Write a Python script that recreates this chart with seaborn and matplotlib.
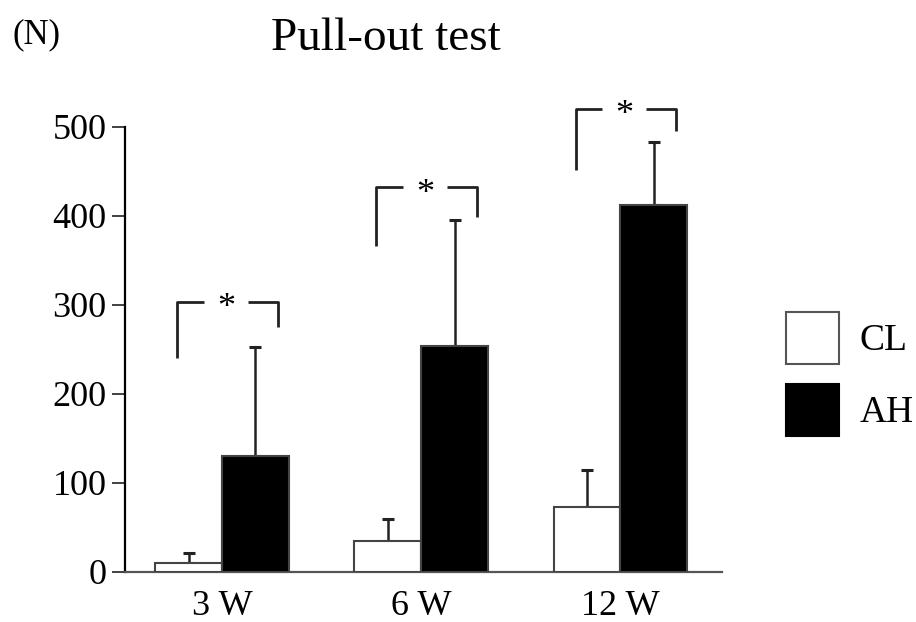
import matplotlib
matplotlib.use("Agg")
import matplotlib.pyplot as plt
import seaborn as sns
import pandas as pd
import numpy as np
from matplotlib.patches import Patch

# ---- data ----
weeks = ["3 W", "6 W", "12 W"]
groups = ["CL", "AH"]
cl_mean = [10, 34, 73]
ah_mean = [130, 254, 412]
cl_sd = [11, 25, 41]
ah_sd = [122, 141, 71]
# significance brackets: top height, left-leg bottom, right-leg bottom
br_top = [303, 432, 520]
br_left = [240, 366, 451]
br_right = [275, 398, 495]
yticks = [0, 100, 200, 300, 400, 500]

df = pd.DataFrame({
    "week": weeks * 2,
    "group": ["CL"] * 3 + ["AH"] * 3,
    "value": cl_mean + ah_mean,
})
sds = {"CL": cl_sd, "AH": ah_sd}

sns.set_style("ticks")
plt.rcParams["font.family"] = ["Liberation Serif", "DejaVu Serif"]
plt.rcParams["text.color"] = "black"
plt.rcParams["xtick.color"] = "black"
plt.rcParams["ytick.color"] = "black"
plt.rcParams["xtick.labelcolor"] = "black"
plt.rcParams["ytick.labelcolor"] = "black"

fig = plt.figure(figsize=(9.16, 6.22), dpi=100)
ax = fig.add_axes([125 / 916, 1 - 571.7 / 622, (722 - 125) / 916, (571.7 - 126.7) / 622])

palette = {"CL": "white", "AH": "black"}
sns.barplot(data=df, x="week", y="value", hue="group", order=weeks, hue_order=groups,
            palette=palette, errorbar=None, width=0.67, ax=ax, legend=False,
            edgecolor="#444444", linewidth=1.5, saturation=1)

# error bars (one-sided, upward) from bar geometry
for cont, g in zip(ax.containers, groups):
    for bar, sd in zip(cont, sds[g]):
        x = bar.get_x() + bar.get_width() / 2
        h = bar.get_height()
        ax.errorbar([x], [h], yerr=[[0], [sd]], fmt="none", ecolor="#222222",
                    elinewidth=1.8, capsize=4, capthick=2.2, clip_on=False, zorder=1)
for p in ax.patches:
    p.set_zorder(3)

# significance brackets
lo, hi, sx, gap = -0.225, 0.28, 0.02, 0.11
for i in range(len(weeks)):
    L, R, S = i + lo, i + hi, i + sx
    kw = dict(color="#222222", lw=2, clip_on=False, solid_capstyle="butt")
    ax.plot([L, L, S - gap], [br_left[i], br_top[i], br_top[i]], **kw)
    ax.plot([S + gap, R, R], [br_top[i], br_top[i], br_right[i]], **kw)
    ax.annotate("*", xy=(S, br_top[i]), xytext=(0, -5), textcoords="offset points",
                ha="center", va="center", fontsize=26, annotation_clip=False)

ax.set_xlim(-0.487, 2.51)
ax.set_ylim(0, 500)
ax.set_yticks(yticks)
ax.set_xlabel("")
ax.set_ylabel("")
sns.despine(ax=ax)
ax.spines["left"].set_linewidth(1.6)
ax.spines["left"].set_color("black")
ax.spines["bottom"].set_linewidth(1.6)
ax.spines["bottom"].set_color("#555555")
ax.tick_params(axis="y", labelsize=26, length=9.4, width=1.3, pad=4, color="#333333")
ax.tick_params(axis="x", labelsize=26, length=0, pad=13)

# legend
handles = [Patch(facecolor="white", edgecolor="#555555", linewidth=1.5, label="CL"),
           Patch(facecolor="black", edgecolor="black", linewidth=1.5, label="AH")]
fig.legend(handles=handles, loc="upper left",
           bbox_to_anchor=(786 / 916, 1 - 312 / 622), frameon=False,
           fontsize=27, handlelength=1.41, handleheight=1.76, labelspacing=0.53,
           handletextpad=0.55, borderpad=0, borderaxespad=0)

fig.text(386 / 916, 1 - 50 / 622, "Pull-out test", ha="center", va="baseline", fontsize=34)
fig.text(13 / 916, 1 - 43 / 622, "(N)", ha="left", va="baseline", fontsize=25)

fig.savefig("out.png", dpi=100)
